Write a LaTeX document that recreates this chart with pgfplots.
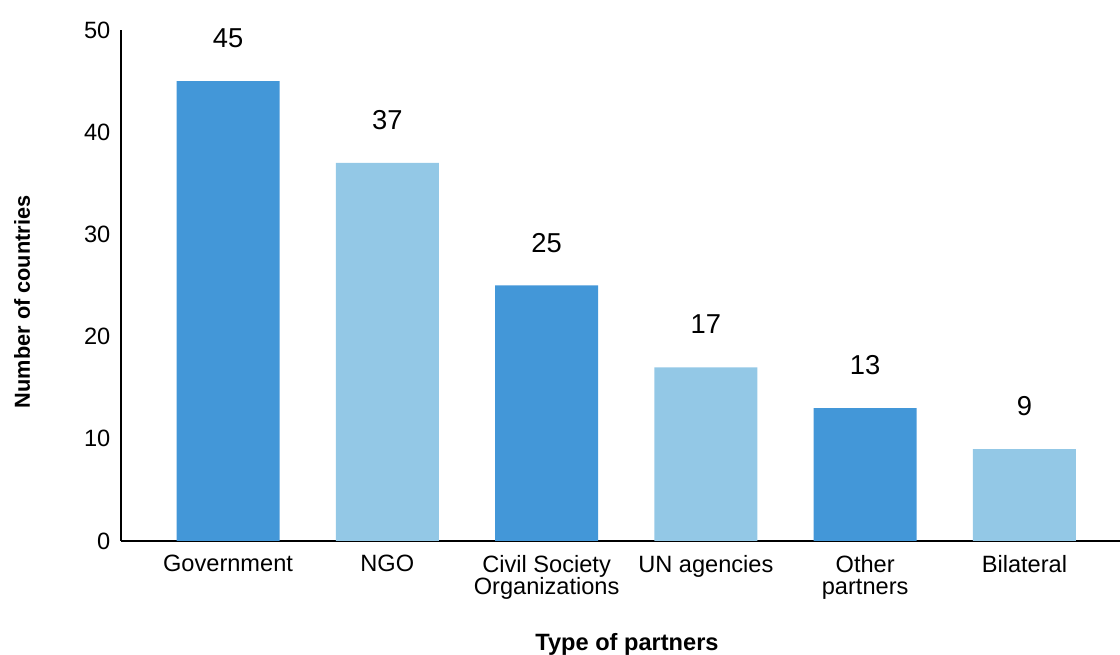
\documentclass[border=0pt]{standalone}
\usepackage{pgfplots}
\pgfplotsset{compat=1.18}
\usepackage{fontspec}
\setmainfont{Liberation Sans}
\definecolor{darkb}{HTML}{4397D8}
\definecolor{lightb}{HTML}{93C8E6}
\begin{document}
\begin{tikzpicture}
\begin{axis}[
  name=ax,
  scale only axis,
  width=749.25pt, height=383.25pt,
  xmin=-0.672, xmax=5.60,
  ymin=0, ymax=50,
  axis x line*=bottom, axis y line*=left,
  axis line style={-, line width=1pt, black},
  ytick={0,10,...,50},
  xtick={0,1,2,3,4,5},
  xticklabels={Government,NGO,{Civil Society\\Organizations},UN agencies,{Other\\partners},Bilateral},
  major tick length=0pt,
  tick style={draw=none},
  /pgf/number format/assume math mode=true,
  tick label style={font=\fontsize{17.7}{16.5}\selectfont},
  xticklabel style={align=center, yshift=-7pt},
  yticklabel style={xshift=-4.5pt},
  ybar, bar width=77.25pt, bar shift=0pt,
  nodes near coords,
  nodes near coords style={anchor=center, yshift=32pt, font=\fontsize{20.5}{22}\selectfont, black},
  xlabel={\textbf{Type of partners}},
  ylabel={\textbf{Number of countries}},
  xlabel style={at={(axis description cs:0.5065,-0.2016)}, anchor=center, font=\fontsize{17.7}{19}\selectfont},
  ylabel style={at={(axis description cs:-0.099,0.468)}, anchor=center, font=\fontsize{16.3}{18}\selectfont},
]
\addplot[fill=darkb, draw=none] coordinates {(0,45) (2,25) (4,13)};
\addplot[fill=lightb, draw=none] coordinates {(1,37) (3,17) (5,9)};
\end{axis}
\pgfresetboundingbox
\path[use as bounding box] ([shift={(-90.75pt,-85.5pt)}]ax.south west) rectangle ([shift={(0pt,22.5pt)}]ax.north east);
\end{tikzpicture}
\end{document}
